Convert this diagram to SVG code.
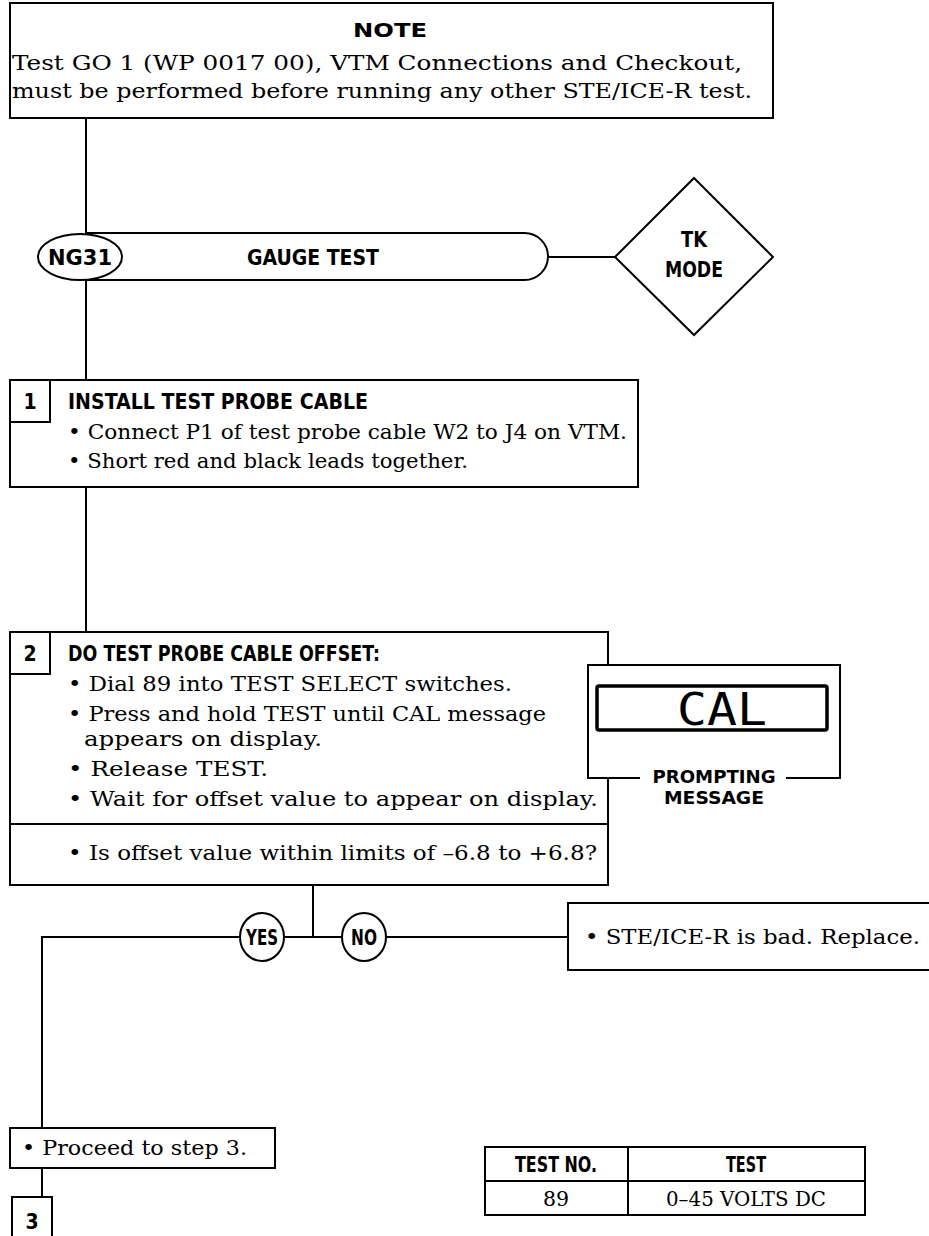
<svg xmlns="http://www.w3.org/2000/svg" width="929" height="1236" viewBox="0 0 929 1236">
<style>
.bx{fill:#fff;stroke:#000;stroke-width:2}
.ln{fill:none;stroke:#000;stroke-width:2}
.sr{font-family:"DejaVu Serif","Liberation Serif",serif;font-size:20.5px;fill:#000}
.sn{font-family:"DejaVu Sans Condensed","Liberation Sans Narrow","Liberation Sans",sans-serif;font-weight:bold;font-size:21px;fill:#000}
.sm{font-size:18px}
.hv{font-family:"DejaVu Sans","Liberation Sans",sans-serif;font-weight:900;font-size:20px;fill:#000}
.c{text-anchor:middle}
</style>
<rect width="929" height="1236" fill="#fff"/>
<g id="connectors">
<line class="ln" x1="86" y1="118" x2="86" y2="380"/>
<line class="ln" x1="86" y1="487" x2="86" y2="632"/>
<line class="ln" x1="548" y1="257" x2="615" y2="257" stroke-width="2.5"/>
<line class="ln" x1="313" y1="885" x2="313" y2="937"/>
<line class="ln" x1="42" y1="937" x2="568" y2="937"/>
<line class="ln" x1="42" y1="936" x2="42" y2="1128"/>
<line class="ln" x1="42" y1="1168" x2="42" y2="1197"/>
</g>
<g id="note">
<rect class="bx" x="10" y="3" width="763" height="115"/>
<text class="hv c" x="390" y="37" textLength="74" lengthAdjust="spacingAndGlyphs">NOTE</text>
<text class="sr" x="12" y="70" textLength="730" lengthAdjust="spacingAndGlyphs">Test GO 1 (WP 0017 00), VTM Connections and Checkout,</text>
<text class="sr" x="12" y="98" textLength="740" lengthAdjust="spacingAndGlyphs">must be performed before running any other STE/ICE-R test.</text>
</g>
<g id="ng31">
<path class="bx" d="M86,233 H524.5 A23.5,23.5 0 0 1 524.5,280 H86 Z"/>
<ellipse class="bx" cx="80" cy="257" rx="42" ry="23"/>
<text class="sn c" x="80" y="265" textLength="64" lengthAdjust="spacingAndGlyphs">NG31</text>
<text class="sn c" x="313" y="265" textLength="132" lengthAdjust="spacingAndGlyphs">GAUGE TEST</text>
</g>
<g id="tkmode">
<polygon class="bx" points="694,178 773,257 694,335 615,257" stroke-width="1.5"/>
<text class="sn c" x="694" y="247" textLength="26" lengthAdjust="spacingAndGlyphs">TK</text>
<text class="sn c" x="694" y="277" textLength="58" lengthAdjust="spacingAndGlyphs">MODE</text>
</g>
<g id="step1">
<rect class="bx" x="10" y="380" width="628" height="107"/>
<rect class="bx" x="10" y="380" width="40" height="42"/>
<text class="sn c" x="30" y="409">1</text>
<text class="sn" x="68" y="409" textLength="300" lengthAdjust="spacingAndGlyphs">INSTALL TEST PROBE CABLE</text>
<text class="sr" x="68" y="439" textLength="559" lengthAdjust="spacingAndGlyphs">• Connect P1 of test probe cable W2 to J4 on VTM.</text>
<text class="sr" x="68" y="468" textLength="400" lengthAdjust="spacingAndGlyphs">• Short red and black leads together.</text>
</g>
<g id="step2">
<rect class="bx" x="10" y="632" width="598" height="253"/>
<rect class="bx" x="10" y="632" width="40" height="42"/>
<line class="ln" x1="10" y1="824" x2="608" y2="824"/>
<text class="sn c" x="30" y="661">2</text>
<text class="sn" x="68" y="661" textLength="312" lengthAdjust="spacingAndGlyphs">DO TEST PROBE CABLE OFFSET:</text>
<text class="sr" x="68" y="691" textLength="444" lengthAdjust="spacingAndGlyphs">• Dial 89 into TEST SELECT switches.</text>
<text class="sr" x="68" y="721" textLength="478" lengthAdjust="spacingAndGlyphs">• Press and hold TEST until CAL message</text>
<text class="sr" x="84" y="746" textLength="238" lengthAdjust="spacingAndGlyphs">appears on display.</text>
<text class="sr" x="68" y="776" textLength="200" lengthAdjust="spacingAndGlyphs">• Release TEST.</text>
<text class="sr" x="68" y="806" textLength="530" lengthAdjust="spacingAndGlyphs">• Wait for offset value to appear on display.</text>
<text class="sr" x="68" y="860" textLength="529" lengthAdjust="spacingAndGlyphs">• Is offset value within limits of –6.8 to +6.8?</text>
</g>
<g id="prompt">
<rect x="588" y="665" width="252" height="113" fill="#fff"/>
<path class="ln" d="M640,778 H588 V665 H840 V778 H786" stroke-width="1.5"/>
<rect x="597" y="686" width="230" height="44" fill="none" stroke="#000" stroke-width="3.5" rx="2"/>
<text x="722" y="725" text-anchor="middle" font-family="DejaVu Sans Mono, monospace" font-weight="300" font-size="44" textLength="90" lengthAdjust="spacingAndGlyphs" fill="#000">CAL</text>
<text class="sn sm c" x="714" y="783" textLength="123" lengthAdjust="spacingAndGlyphs">PROMPTING</text>
<text class="sn sm c" x="714" y="804" textLength="100" lengthAdjust="spacingAndGlyphs">MESSAGE</text>
</g>
<g id="yes">
<ellipse class="bx" cx="262" cy="937" rx="22" ry="24"/>
<text class="sn c" x="262" y="945" textLength="32" lengthAdjust="spacingAndGlyphs">YES</text>
</g>
<g id="no">
<ellipse class="bx" cx="364" cy="937" rx="22" ry="24"/>
<text class="sn c" x="364" y="945" textLength="26" lengthAdjust="spacingAndGlyphs">NO</text>
</g>
<g id="bad">
<rect class="bx" x="568" y="903" width="362" height="67"/>
<text class="sr" x="585" y="944" textLength="335" lengthAdjust="spacingAndGlyphs">• STE/ICE-R is bad. Replace.</text>
</g>
<g id="proceed">
<rect class="bx" x="10" y="1128" width="265" height="40"/>
<text class="sr" x="22" y="1155" textLength="225" lengthAdjust="spacingAndGlyphs">• Proceed to step 3.</text>
</g>
<g id="step3">
<rect class="bx" x="12" y="1197" width="40" height="45"/>
<text class="sn c" x="32" y="1229">3</text>
</g>
<g id="table">
<rect class="bx" x="485" y="1147" width="380" height="68"/>
<line class="ln" x1="485" y1="1147" x2="865" y2="1147" stroke-width="3"/>
<line class="ln" x1="485" y1="1215" x2="865" y2="1215" stroke-width="3"/>
<line class="ln" x1="485" y1="1181" x2="865" y2="1181"/>
<line class="ln" x1="628" y1="1147" x2="628" y2="1215"/>
<text class="sn c" x="556" y="1172" textLength="82" lengthAdjust="spacingAndGlyphs">TEST NO.</text>
<text class="sn c" x="746" y="1172" textLength="40" lengthAdjust="spacingAndGlyphs">TEST</text>
<text class="sr c" x="556" y="1206">89</text>
<text class="sr c" x="746" y="1206" textLength="160" lengthAdjust="spacingAndGlyphs">0–45 VOLTS DC</text>
</g>
</svg>
